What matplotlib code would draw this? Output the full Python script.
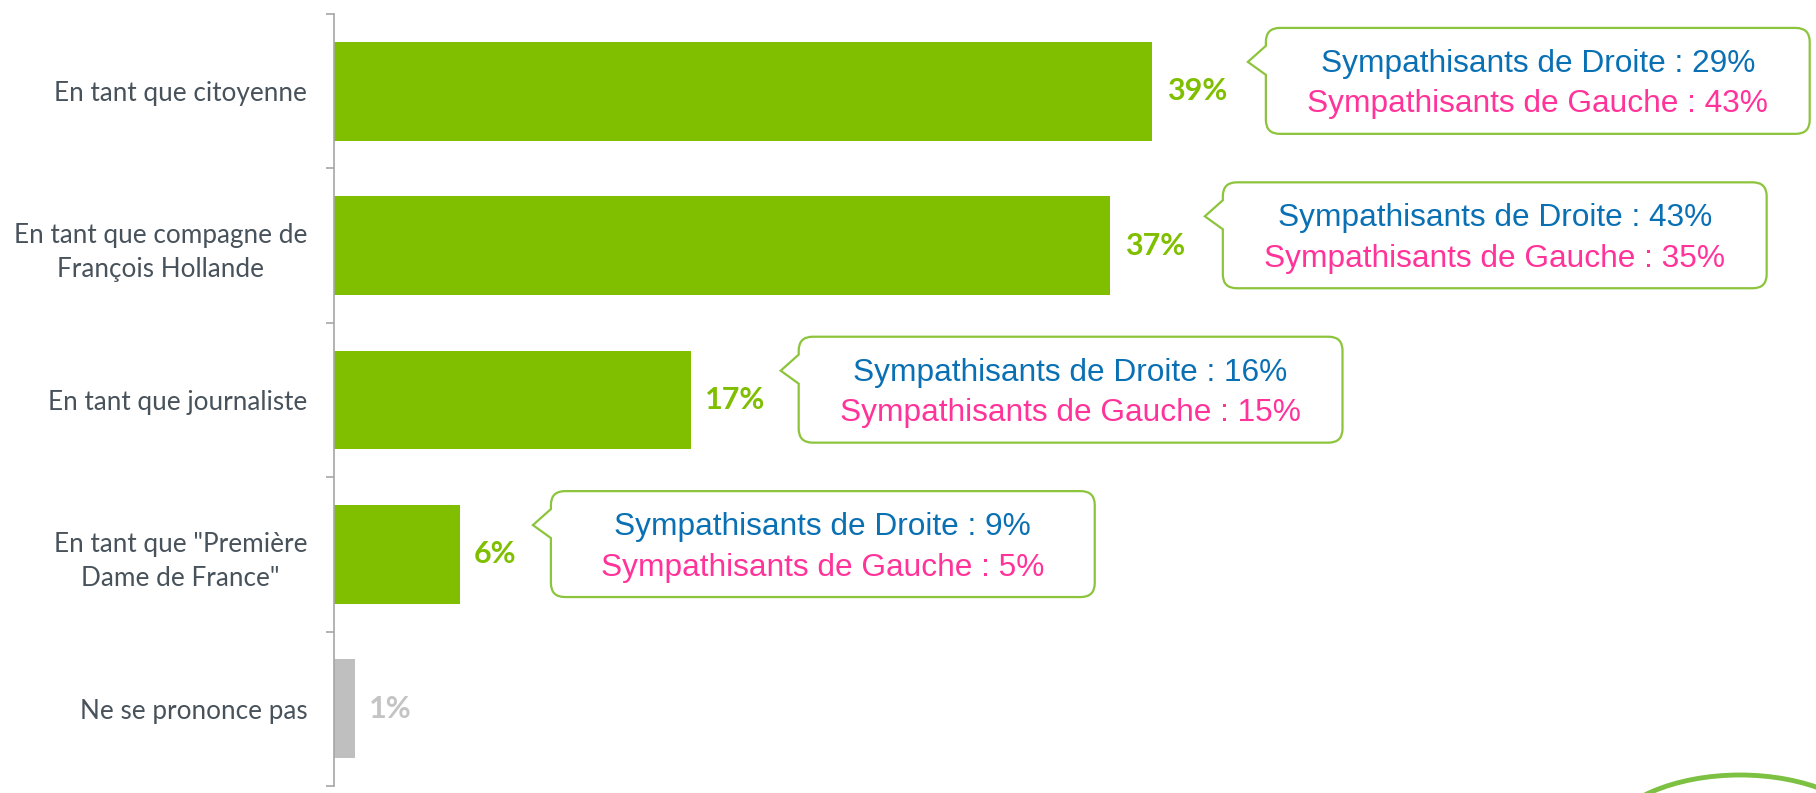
import matplotlib.pyplot as plt
from matplotlib.path import Path
from matplotlib.patches import PathPatch, Arc

# DATA

categories = [
    "En tant que citoyenne",
    "En tant que compagne de\nFrançois Hollande",
    "En tant que journaliste",
    "En tant que \"Première\nDame de France\"",
    "Ne se prononce pas",
]
values = [39, 37, 17, 6, 1]
droite = [29, 43, 16, 9]
gauche = [43, 35, 15, 5]

green = "#7fbf00"
grey = "#bfbfbf"
blue = "#0a70b4"
pink = "#ff3399"
box_edge = "#8cc43c"

bar_colors = [green, green, green, green, grey]
label_colors = [green, green, green, green, "#c4c4c4"]

# FIGURE

fig = plt.figure(figsize=(18.16, 7.93), dpi=100)
ax = fig.add_axes([0.1837, 0.0088, 0.8163, 0.9735])

y = list(range(len(categories)))
ax.barh(y, values, height=0.64, color=bar_colors)

ax.set_xlim(0, 70.6)
ax.set_ylim(4.5, -0.5)

# axis style: only left spine, ticks between categories
for side in ["top", "right", "bottom"]:
    ax.spines[side].set_visible(False)
ax.spines["left"].set_color("#a6a6a6")
ax.spines["left"].set_linewidth(1.2)
ax.set_xticks([])
ax.set_yticks(y)
ax.set_yticklabels(categories, fontsize=18.8, color="#48525b", family="Lato",
                   linespacing=1.45)
for lab in ax.get_yticklabels():
    lab.set_multialignment("center")
ax.tick_params(axis="y", which="major", length=0, pad=19)
ax.set_yticks([i - 0.5 for i in range(len(categories) + 1)], minor=True)
ax.tick_params(axis="y", which="minor", length=6, width=1.2, color="#a6a6a6")

# value labels
for i, v in enumerate(values):
    ax.annotate(
        str(v) + "%",
        xy=(v, i),
        xytext=(10.5, 0),
        textcoords="offset points",
        ha="left",
        va="center",
        fontsize=22,
        fontweight="bold",
        color=label_colors[i],
        family="Lato",
    )

# callout boxes
box_gap = [5.4, 5.35, 5.15, 4.35]
box_w = 25.9
box_top = -0.41
box_h = 0.686
rx = 14 / 21.0
ry = 14 / 154.6
tip_dx = 18 / 21.0

for i in range(len(droite)):
    x0 = values[i] + box_gap[i]
    x1 = x0 + box_w
    y0 = i + box_top
    y1 = y0 + box_h
    verts = [
        (x0 + rx, y0),
        (x1 - rx, y0),
        (x1, y0), (x1, y0 + ry),
        (x1, y1 - ry),
        (x1, y1), (x1 - rx, y1),
        (x0 + rx, y1),
        (x0, y1), (x0, y1 - ry),
        (x0, y0 + 0.304),
        (x0 - tip_dx, y0 + 0.22),
        (x0, y0 + 0.116),
        (x0, y0 + ry),
        (x0, y0), (x0 + rx, y0),
        (x0 + rx, y0),
    ]
    codes = [
        Path.MOVETO,
        Path.LINETO,
        Path.CURVE3, Path.CURVE3,
        Path.LINETO,
        Path.CURVE3, Path.CURVE3,
        Path.LINETO,
        Path.CURVE3, Path.CURVE3,
        Path.LINETO,
        Path.LINETO,
        Path.LINETO,
        Path.LINETO,
        Path.CURVE3, Path.CURVE3,
        Path.CLOSEPOLY,
    ]
    patch = PathPatch(Path(verts, codes), facecolor="white",
                      edgecolor=box_edge, linewidth=1.6, clip_on=False)
    ax.add_patch(patch)

    xc = (x0 + x1) / 2
    ax.text(xc, i - 0.178, "Sympathisants de Droite : " + str(droite[i]) + "%",
            ha="center", va="center", fontsize=22.8, color=blue,
            family="Liberation Sans")
    ax.text(xc, i + 0.085, "Sympathisants de Gauche : " + str(gauche[i]) + "%",
            ha="center", va="center", fontsize=22.8, color=pink,
            family="Liberation Sans")

# decorative green arc in the bottom right corner
arc = Arc((1740 / 1816, -57 / 793), 280 / 1816, 150 / 793,
          theta1=15, theta2=165, color="#7dc142", linewidth=3.5,
          transform=fig.transFigure)
fig.add_artist(arc)

plt.savefig("out.png", dpi=100)
